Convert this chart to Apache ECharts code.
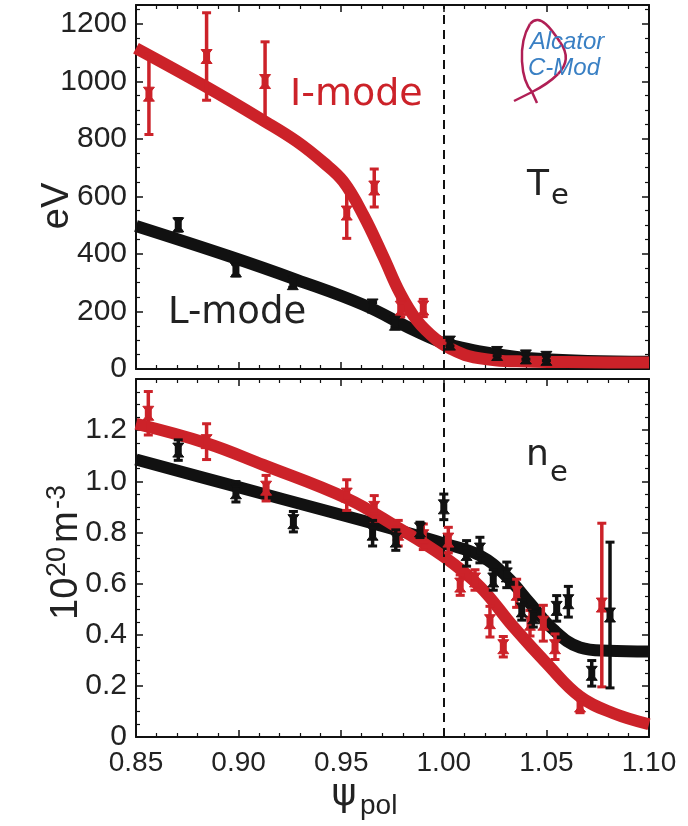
<!DOCTYPE html>
<html>
<head>
<meta charset="utf-8">
<script src="https://cdn.jsdelivr.net/npm/echarts@6/dist/echarts.min.js"></script>
<style>
html,body{margin:0;padding:0;background:#fff;}
#chart{width:688px;height:826px;}
</style>
</head>
<body>
<div id="chart"></div>
<script>
// ---------- data ----------
const psiTicks = [0.85, 0.90, 0.95, 1.00, 1.05, 1.10];
const teTicks = [0, 200, 400, 600, 800, 1000, 1200];
const neTicks = [0, 0.2, 0.4, 0.6, 0.8, 1.0, 1.2];
const separatrix = 1.00;

// Te fits (eV)
const teI_fitX = [0.85, 0.8844, 0.9129, 0.9283, 0.9413, 0.951, 0.9608, 0.9705, 0.9787, 0.9868, 0.9965, 1.003, 1.012, 1.025, 1.04, 1.06, 1.08, 1.10];
const teI_fitY = [1115, 980, 860, 791, 718, 652, 535, 391, 263, 170, 101, 72, 45, 30, 26, 24, 23, 23];
const teL_fitX = [0.85, 0.8958, 0.9283, 0.9608, 0.9851, 1.0, 1.005, 1.019, 1.0355, 1.052, 1.07, 1.10];
const teL_fitY = [497, 391, 310, 223, 136, 89, 80, 59, 42, 33, 28, 25];

// Te measurements (eV)
const teI_ptX = [0.8563, 0.8844, 0.9129, 0.9527, 0.9661, 0.979, 0.99];
const teI_ptY = [955, 1086, 999, 542, 629, 211, 212];
const teI_ptErr = [140, 152, 138, 88, 66, 30, 30];
const teL_ptX = [0.8706, 0.8987, 0.9264, 0.9653, 0.9762, 1.003, 1.026, 1.04, 1.05];
const teL_ptY = [501, 344, 300, 219, 159, 90, 54, 42, 37];
const teL_ptErr = [22, 20, 16, 12, 12, 10, 8, 8, 8];

// ne fits (10^20 m^-3)
const neI_fitX = [0.85, 0.8844, 0.912, 0.9527, 0.977, 1.0, 1.0176, 1.0339, 1.0501, 1.0664, 1.0826, 1.10];
const neI_fitY = [1.225, 1.149, 1.064, 0.933, 0.822, 0.705, 0.588, 0.431, 0.288, 0.158, 0.093, 0.05];
const neL_fitX = [0.85, 0.899, 0.9445, 0.977, 1.0, 1.0176, 1.0307, 1.042, 1.0534, 1.0664, 1.08, 1.10];
const neL_fitY = [1.085, 0.979, 0.881, 0.81, 0.757, 0.71, 0.627, 0.523, 0.42, 0.35, 0.337, 0.334];

// ne measurements
const neI_ptX = [0.856, 0.8844, 0.9134, 0.9527, 0.9661, 0.9778, 0.99, 1.0022, 1.008, 1.0152, 1.0225, 1.029, 1.0355, 1.042, 1.0485, 1.0542, 1.0664, 1.077];
const neI_ptY = [1.266, 1.155, 0.973, 0.946, 0.894, 0.797, 0.783, 0.770, 0.594, 0.614, 0.451, 0.353, 0.562, 0.445, 0.445, 0.353, 0.125, 0.516];
const neI_ptErr = [0.085, 0.07, 0.05, 0.06, 0.05, 0.05, 0.05, 0.05, 0.04, 0.04, 0.06, 0.04, 0.055, 0.05, 0.07, 0.05, 0.03, 0.32];
const neL_ptX = [0.8706, 0.8987, 0.9267, 0.9653, 0.9766, 0.9884, 1.0, 1.0111, 1.0176, 1.0241, 1.0307, 1.038, 1.0436, 1.055, 1.0607, 1.0721, 1.081];
const neL_ptY = [1.122, 0.959, 0.842, 0.797, 0.770, 0.81, 0.90, 0.718, 0.731, 0.614, 0.634, 0.497, 0.47, 0.503, 0.529, 0.249, 0.477];
const neL_ptErr = [0.04, 0.04, 0.04, 0.05, 0.04, 0.03, 0.05, 0.05, 0.05, 0.04, 0.05, 0.04, 0.04, 0.05, 0.06, 0.05, 0.285];

// ---------- styling ----------
const RED = '#cc2229';
const BLK = '#111111';
const TXT = '#222222';
const LOGO = '#b01f55';

function zip(xs, ys){ return xs.map((x,i)=>[x, ys[i]]); }
function errData(xs, ys, es){ return xs.map((x,i)=>[x, ys[i], ys[i]-es[i], ys[i]+es[i]]); }

function renderErr(params, api){
  const x = api.value(0);
  const p = api.coord([x, api.value(1)]);
  const lo = api.coord([x, api.value(2)]);
  const hi = api.coord([x, api.value(3)]);
  const c = api.visual('color');
  const w = 5.5, h = 7, cap = 4.5;
  return {type:'group', children:[
    {type:'line', shape:{x1:p[0], y1:hi[1], x2:p[0], y2:lo[1]}, style:{stroke:c, lineWidth:3.5}},
    {type:'line', shape:{x1:p[0]-cap, y1:hi[1], x2:p[0]+cap, y2:hi[1]}, style:{stroke:c, lineWidth:3}},
    {type:'line', shape:{x1:p[0]-cap, y1:lo[1], x2:p[0]+cap, y2:lo[1]}, style:{stroke:c, lineWidth:3}},
    {type:'polygon', shape:{points:[[p[0]-w,p[1]-h],[p[0]+w,p[1]-h],[p[0],p[1]],[p[0]+w,p[1]+h],[p[0]-w,p[1]+h],[p[0],p[1]]]}, style:{fill:c, stroke:c, lineWidth:1}},
    {type:'rect', shape:{x:p[0]-3.5, y:p[1]-4, width:7, height:8}, style:{fill:c}}
  ]};
}

const axLine = {show:true, onZero:false, lineStyle:{color:BLK, width:2}};
const axTick = {show:true, inside:true, length:7, lineStyle:{color:BLK, width:1.5}};
function minor(n){ return {show:true, splitNumber:n, length:4, lineStyle:{color:BLK, width:1.2}}; }

function xAx(grid, pos, labels){
  return {gridIndex:grid, type:'value', position:pos, min:psiTicks[0], max:psiTicks[psiTicks.length-1], interval:0.05,
    axisLine:axLine, axisTick:axTick, minorTick:minor(5), splitLine:{show:false},
    axisLabel:{show:labels, margin:12, color:TXT, fontFamily:'Liberation Sans', fontSize:28,
      formatter:(v)=>v.toFixed(2)}};
}
function yAx(grid, pos, labels, min, max, interval, fmt){
  return {gridIndex:grid, type:'value', position:pos, min:min, max:max, interval:interval,
    axisLine:axLine, axisTick:axTick, minorTick:minor(4), splitLine:{show:false},
    axisLabel:{show:labels, margin:9, color:TXT, fontFamily:'Liberation Sans', fontSize:30, formatter:fmt}};
}

const teFmt = (v)=> teTicks.indexOf(v) >= 0 ? String(v) : '';
const neFmt = (v)=> {
  const r = Math.round(v*10)/10;
  if (Math.abs(v - r) > 1e-6 || r > neTicks[neTicks.length-1] + 1e-6) return '';
  return r === 0 ? '0' : r.toFixed(1);
};

const dashLine = {silent:true, symbol:['none','none'], label:{show:false},
  lineStyle:{color:BLK, type:[9,6], width:2}, data:[{xAxis:separatrix}]};

function fitLine(xi, yi, data, color, z){
  return {type:'line', xAxisIndex:xi, yAxisIndex:yi, data:data, smooth:0.4,
    showSymbol:false, symbol:'none', lineStyle:{color:color, width:12, cap:'butt', join:'round'}, z:z, silent:true, animation:false};
}
function pts(xi, yi, data, color, z){
  return {type:'custom', xAxisIndex:xi, yAxisIndex:yi, data:data, renderItem:renderErr,
    itemStyle:{color:color}, encode:{x:0, y:[1,2,3]}, z:z, silent:true, animation:false};
}

function seg(x1,y1,c1x,c1y,c2x,c2y,x2,y2){
  return {type:'bezierCurve', z:9, shape:{x1:x1,y1:y1,cpx1:c1x,cpy1:c1y,cpx2:c2x,cpy2:c2y,x2:x2,y2:y2},
    style:{fill:null, stroke:LOGO, lineWidth:2.5}};
}

const option = {
  backgroundColor:'#fff',
  animation:false,
  grid:[
    {left:136, top:5, width:513, height:364},
    {left:136, top:379, width:513, height:358}
  ],
  xAxis:[ xAx(0,'bottom',false), xAx(0,'top',false), xAx(1,'bottom',true), xAx(1,'top',false) ],
  yAxis:[
    yAx(0,'left',true,0,1265,200,teFmt), yAx(0,'right',false,0,1265,200,teFmt),
    yAx(1,'left',true,0,1.40,0.2,neFmt), yAx(1,'right',false,0,1.40,0.2,neFmt)
  ],
  series:[
    {type:'line', xAxisIndex:0, yAxisIndex:0, data:[], z:1, markLine:dashLine},
    {type:'line', xAxisIndex:2, yAxisIndex:2, data:[], z:1, markLine:dashLine},
    fitLine(0,0, zip(teL_fitX, teL_fitY), BLK, 3),
    fitLine(0,0, zip(teI_fitX, teI_fitY), RED, 4),
    pts(0,0, errData(teI_ptX, teI_ptY, teI_ptErr), RED, 5),
    pts(0,0, errData(teL_ptX, teL_ptY, teL_ptErr), BLK, 6),
    fitLine(2,2, zip(neL_fitX, neL_fitY), BLK, 3),
    fitLine(2,2, zip(neI_fitX, neI_fitY), RED, 4),
    pts(2,2, errData(neI_ptX, neI_ptY, neI_ptErr), RED, 5),
    pts(2,2, errData(neL_ptX, neL_ptY, neL_ptErr), BLK, 6)
  ],
  graphic:[
    {type:'text', x:290, y:95, z:10, style:{text:'I-mode', fill:RED, font:'38px "DejaVu Sans"', textAlign:'left', textVerticalAlign:'middle'}},
    {type:'text', x:168, y:313, z:10, style:{text:'L-mode', fill:TXT, font:'37px "DejaVu Sans"', textAlign:'left', textVerticalAlign:'middle'}},
    {type:'text', x:527, y:186, z:10, style:{text:'T', fill:TXT, font:'36px "DejaVu Sans"', textAlign:'left', textVerticalAlign:'middle'}},
    {type:'text', x:551, y:196, z:10, style:{text:'e', fill:TXT, font:'29px "DejaVu Sans"', textAlign:'left', textVerticalAlign:'middle'}},
    {type:'text', x:526, y:456, z:10, style:{text:'n', fill:TXT, font:'36px "DejaVu Sans"', textAlign:'left', textVerticalAlign:'middle'}},
    {type:'text', x:550, y:473, z:10, style:{text:'e', fill:TXT, font:'29px "DejaVu Sans"', textAlign:'left', textVerticalAlign:'middle'}},
    // logo
    {type:'line', z:9, shape:{x1:514,y1:101,x2:532,y2:92}, style:{stroke:LOGO, lineWidth:2.5}},
    seg(532,92, 521,80, 517,45, 530,24),
    seg(530,24, 540,12, 552,30, 560,42),
    seg(560,42, 570,56, 566,66, 558,74),
    seg(558,74, 550,82, 540,88, 532,92),
    {type:'line', z:9, shape:{x1:532,y1:92,x2:537,y2:103}, style:{stroke:LOGO, lineWidth:2.5}},
    {type:'text', x:567, y:42, z:10, style:{text:'Alcator', fill:'#3a80c4', font:'italic 24px "Liberation Sans"', textAlign:'center', textVerticalAlign:'middle'}},
    {type:'text', x:564, y:68, z:10, style:{text:'C-Mod', fill:'#3a80c4', font:'italic 24px "Liberation Sans"', textAlign:'center', textVerticalAlign:'middle'}},
    // y titles
    {type:'text', x:58, y:206, rotation:Math.PI/2, z:10, style:{text:'eV', fill:TXT, font:'38px "Liberation Sans"', textAlign:'center', textVerticalAlign:'middle'}},
    {type:'group', x:86, y:620, rotation:Math.PI/2, z:10, children:[
      {type:'text', x:0, y:0, style:{text:'10', fill:TXT, font:'38px "Liberation Sans"', textAlign:'left', textVerticalAlign:'bottom'}},
      {type:'text', x:43, y:-15, style:{text:'20', fill:TXT, font:'27px "Liberation Sans"', textAlign:'left', textVerticalAlign:'bottom'}},
      {type:'text', x:77, y:0, style:{text:'m', fill:TXT, font:'38px "Liberation Sans"', textAlign:'left', textVerticalAlign:'bottom'}},
      {type:'text', x:111, y:-15, style:{text:'-3', fill:TXT, font:'27px "Liberation Sans"', textAlign:'left', textVerticalAlign:'bottom'}}
    ]},
    // x title
    {type:'text', x:344, y:795, z:10, style:{text:'\u03C8', fill:TXT, font:'38px "DejaVu Sans"', textAlign:'center', textVerticalAlign:'middle'}},
    {type:'text', x:360, y:806, z:10, style:{text:'pol', fill:TXT, font:'28px "Liberation Sans"', textAlign:'left', textVerticalAlign:'middle'}}
  ]
};

const chart = echarts.init(document.getElementById('chart'), null, {renderer:'canvas'});
chart.setOption(option);
</script>
</body>
</html>
